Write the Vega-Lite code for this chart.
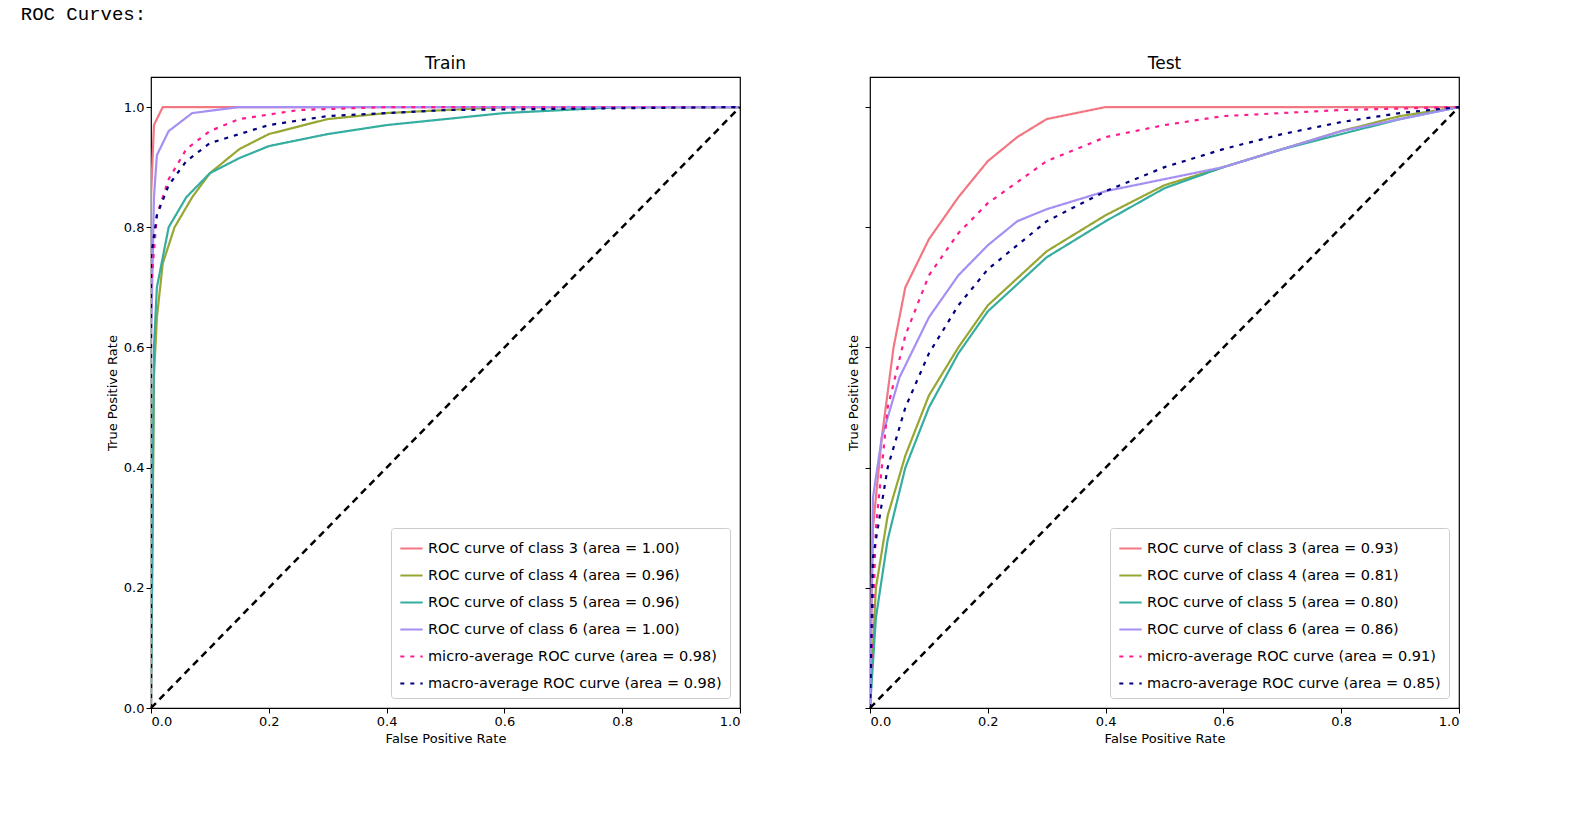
{
  "$schema": "https://vega.github.io/schema/vega-lite/v6.json",
  "background": "white",
  "padding": {"left": 20, "top": 5, "right": 10, "bottom": 5},
  "title": {"text": "ROC Curves:", "font": "Liberation Mono", "fontSize": 19, "fontWeight": "normal", "anchor": "start", "offset": 30, "dx": -85},
  "config": {
    "font": "DejaVu Sans",
    "view": {"stroke": "black", "strokeWidth": 1.2},
    "axis": {"grid": false, "domain": false, "tickColor": "black", "labelColor": "black", "titleColor": "black", "labelFontSize": 13, "titleFontSize": 13, "titleFontWeight": "normal", "tickSize": 5},
    "title": {"fontSize": 17, "fontWeight": "normal", "color": "black"},
    "legend": {"orient": "bottom-right", "fillColor": "white", "strokeColor": "#cccccc", "padding": 8, "offset": 10, "labelFontSize": 14.5, "symbolType": "stroke", "symbolSize": 500, "rowPadding": 8, "labelLimit": 500, "title": null, "cornerRadius": 3}
  },
  "datasets": {
    "curves": [
      {"p": "Train", "s": "ROC curve of class 3 (area = 1.00)", "x": 0, "y": 0},
      {"p": "Train", "s": "ROC curve of class 3 (area = 1.00)", "x": 0, "y": 0.85},
      {"p": "Train", "s": "ROC curve of class 3 (area = 1.00)", "x": 0.005, "y": 0.97},
      {"p": "Train", "s": "ROC curve of class 3 (area = 1.00)", "x": 0.02, "y": 1},
      {"p": "Train", "s": "ROC curve of class 3 (area = 1.00)", "x": 1, "y": 1},
      {"p": "Train", "s": "ROC curve of class 4 (area = 0.96)", "x": 0, "y": 0},
      {"p": "Train", "s": "ROC curve of class 4 (area = 0.96)", "x": 0.005, "y": 0.55},
      {"p": "Train", "s": "ROC curve of class 4 (area = 0.96)", "x": 0.01, "y": 0.65},
      {"p": "Train", "s": "ROC curve of class 4 (area = 0.96)", "x": 0.02, "y": 0.74},
      {"p": "Train", "s": "ROC curve of class 4 (area = 0.96)", "x": 0.04, "y": 0.8},
      {"p": "Train", "s": "ROC curve of class 4 (area = 0.96)", "x": 0.07, "y": 0.85},
      {"p": "Train", "s": "ROC curve of class 4 (area = 0.96)", "x": 0.1, "y": 0.89},
      {"p": "Train", "s": "ROC curve of class 4 (area = 0.96)", "x": 0.15, "y": 0.93},
      {"p": "Train", "s": "ROC curve of class 4 (area = 0.96)", "x": 0.2, "y": 0.955},
      {"p": "Train", "s": "ROC curve of class 4 (area = 0.96)", "x": 0.3, "y": 0.98},
      {"p": "Train", "s": "ROC curve of class 4 (area = 0.96)", "x": 0.4, "y": 0.99},
      {"p": "Train", "s": "ROC curve of class 4 (area = 0.96)", "x": 0.6, "y": 1},
      {"p": "Train", "s": "ROC curve of class 4 (area = 0.96)", "x": 1, "y": 1},
      {"p": "Train", "s": "ROC curve of class 5 (area = 0.96)", "x": 0, "y": 0},
      {"p": "Train", "s": "ROC curve of class 5 (area = 0.96)", "x": 0.005, "y": 0.6},
      {"p": "Train", "s": "ROC curve of class 5 (area = 0.96)", "x": 0.01, "y": 0.7},
      {"p": "Train", "s": "ROC curve of class 5 (area = 0.96)", "x": 0.03, "y": 0.8},
      {"p": "Train", "s": "ROC curve of class 5 (area = 0.96)", "x": 0.06, "y": 0.85},
      {"p": "Train", "s": "ROC curve of class 5 (area = 0.96)", "x": 0.1, "y": 0.89},
      {"p": "Train", "s": "ROC curve of class 5 (area = 0.96)", "x": 0.15, "y": 0.915},
      {"p": "Train", "s": "ROC curve of class 5 (area = 0.96)", "x": 0.2, "y": 0.935},
      {"p": "Train", "s": "ROC curve of class 5 (area = 0.96)", "x": 0.3, "y": 0.955},
      {"p": "Train", "s": "ROC curve of class 5 (area = 0.96)", "x": 0.4, "y": 0.97},
      {"p": "Train", "s": "ROC curve of class 5 (area = 0.96)", "x": 0.6, "y": 0.99},
      {"p": "Train", "s": "ROC curve of class 5 (area = 0.96)", "x": 0.8, "y": 1},
      {"p": "Train", "s": "ROC curve of class 5 (area = 0.96)", "x": 1, "y": 1},
      {"p": "Train", "s": "ROC curve of class 6 (area = 1.00)", "x": 0, "y": 0},
      {"p": "Train", "s": "ROC curve of class 6 (area = 1.00)", "x": 0, "y": 0.6},
      {"p": "Train", "s": "ROC curve of class 6 (area = 1.00)", "x": 0.005, "y": 0.85},
      {"p": "Train", "s": "ROC curve of class 6 (area = 1.00)", "x": 0.01, "y": 0.92},
      {"p": "Train", "s": "ROC curve of class 6 (area = 1.00)", "x": 0.03, "y": 0.96},
      {"p": "Train", "s": "ROC curve of class 6 (area = 1.00)", "x": 0.07, "y": 0.99},
      {"p": "Train", "s": "ROC curve of class 6 (area = 1.00)", "x": 0.15, "y": 1},
      {"p": "Train", "s": "ROC curve of class 6 (area = 1.00)", "x": 1, "y": 1},
      {"p": "Train", "s": "micro-average ROC curve (area = 0.98)", "x": 0, "y": 0},
      {"p": "Train", "s": "micro-average ROC curve (area = 0.98)", "x": 0, "y": 0.7},
      {"p": "Train", "s": "micro-average ROC curve (area = 0.98)", "x": 0.01, "y": 0.82},
      {"p": "Train", "s": "micro-average ROC curve (area = 0.98)", "x": 0.03, "y": 0.88},
      {"p": "Train", "s": "micro-average ROC curve (area = 0.98)", "x": 0.06, "y": 0.93},
      {"p": "Train", "s": "micro-average ROC curve (area = 0.98)", "x": 0.1, "y": 0.96},
      {"p": "Train", "s": "micro-average ROC curve (area = 0.98)", "x": 0.15, "y": 0.98},
      {"p": "Train", "s": "micro-average ROC curve (area = 0.98)", "x": 0.25, "y": 0.995},
      {"p": "Train", "s": "micro-average ROC curve (area = 0.98)", "x": 0.4, "y": 1},
      {"p": "Train", "s": "micro-average ROC curve (area = 0.98)", "x": 1, "y": 1},
      {"p": "Train", "s": "macro-average ROC curve (area = 0.98)", "x": 0, "y": 0},
      {"p": "Train", "s": "macro-average ROC curve (area = 0.98)", "x": 0, "y": 0.75},
      {"p": "Train", "s": "macro-average ROC curve (area = 0.98)", "x": 0.01, "y": 0.82},
      {"p": "Train", "s": "macro-average ROC curve (area = 0.98)", "x": 0.03, "y": 0.87},
      {"p": "Train", "s": "macro-average ROC curve (area = 0.98)", "x": 0.06, "y": 0.91},
      {"p": "Train", "s": "macro-average ROC curve (area = 0.98)", "x": 0.1, "y": 0.94},
      {"p": "Train", "s": "macro-average ROC curve (area = 0.98)", "x": 0.2, "y": 0.97},
      {"p": "Train", "s": "macro-average ROC curve (area = 0.98)", "x": 0.3, "y": 0.985},
      {"p": "Train", "s": "macro-average ROC curve (area = 0.98)", "x": 0.5, "y": 0.995},
      {"p": "Train", "s": "macro-average ROC curve (area = 0.98)", "x": 1, "y": 1},

      {"p": "Test", "s": "ROC curve of class 3 (area = 0.93)", "x": 0, "y": 0},
      {"p": "Test", "s": "ROC curve of class 3 (area = 0.93)", "x": 0.005, "y": 0.3},
      {"p": "Test", "s": "ROC curve of class 3 (area = 0.93)", "x": 0.02, "y": 0.45},
      {"p": "Test", "s": "ROC curve of class 3 (area = 0.93)", "x": 0.04, "y": 0.6},
      {"p": "Test", "s": "ROC curve of class 3 (area = 0.93)", "x": 0.06, "y": 0.7},
      {"p": "Test", "s": "ROC curve of class 3 (area = 0.93)", "x": 0.1, "y": 0.78},
      {"p": "Test", "s": "ROC curve of class 3 (area = 0.93)", "x": 0.15, "y": 0.85},
      {"p": "Test", "s": "ROC curve of class 3 (area = 0.93)", "x": 0.2, "y": 0.91},
      {"p": "Test", "s": "ROC curve of class 3 (area = 0.93)", "x": 0.25, "y": 0.95},
      {"p": "Test", "s": "ROC curve of class 3 (area = 0.93)", "x": 0.3, "y": 0.98},
      {"p": "Test", "s": "ROC curve of class 3 (area = 0.93)", "x": 0.4, "y": 1},
      {"p": "Test", "s": "ROC curve of class 3 (area = 0.93)", "x": 1, "y": 1},
      {"p": "Test", "s": "ROC curve of class 4 (area = 0.81)", "x": 0, "y": 0},
      {"p": "Test", "s": "ROC curve of class 4 (area = 0.81)", "x": 0.01, "y": 0.2},
      {"p": "Test", "s": "ROC curve of class 4 (area = 0.81)", "x": 0.03, "y": 0.32},
      {"p": "Test", "s": "ROC curve of class 4 (area = 0.81)", "x": 0.06, "y": 0.42},
      {"p": "Test", "s": "ROC curve of class 4 (area = 0.81)", "x": 0.1, "y": 0.52},
      {"p": "Test", "s": "ROC curve of class 4 (area = 0.81)", "x": 0.15, "y": 0.6},
      {"p": "Test", "s": "ROC curve of class 4 (area = 0.81)", "x": 0.2, "y": 0.67},
      {"p": "Test", "s": "ROC curve of class 4 (area = 0.81)", "x": 0.3, "y": 0.76},
      {"p": "Test", "s": "ROC curve of class 4 (area = 0.81)", "x": 0.4, "y": 0.82},
      {"p": "Test", "s": "ROC curve of class 4 (area = 0.81)", "x": 0.5, "y": 0.87},
      {"p": "Test", "s": "ROC curve of class 4 (area = 0.81)", "x": 0.6, "y": 0.9},
      {"p": "Test", "s": "ROC curve of class 4 (area = 0.81)", "x": 0.7, "y": 0.93},
      {"p": "Test", "s": "ROC curve of class 4 (area = 0.81)", "x": 0.8, "y": 0.96},
      {"p": "Test", "s": "ROC curve of class 4 (area = 0.81)", "x": 0.9, "y": 0.985},
      {"p": "Test", "s": "ROC curve of class 4 (area = 0.81)", "x": 1, "y": 1},
      {"p": "Test", "s": "ROC curve of class 5 (area = 0.80)", "x": 0, "y": 0},
      {"p": "Test", "s": "ROC curve of class 5 (area = 0.80)", "x": 0.01, "y": 0.15},
      {"p": "Test", "s": "ROC curve of class 5 (area = 0.80)", "x": 0.03, "y": 0.28},
      {"p": "Test", "s": "ROC curve of class 5 (area = 0.80)", "x": 0.06, "y": 0.4},
      {"p": "Test", "s": "ROC curve of class 5 (area = 0.80)", "x": 0.1, "y": 0.5},
      {"p": "Test", "s": "ROC curve of class 5 (area = 0.80)", "x": 0.15, "y": 0.59},
      {"p": "Test", "s": "ROC curve of class 5 (area = 0.80)", "x": 0.2, "y": 0.66},
      {"p": "Test", "s": "ROC curve of class 5 (area = 0.80)", "x": 0.3, "y": 0.75},
      {"p": "Test", "s": "ROC curve of class 5 (area = 0.80)", "x": 0.4, "y": 0.81},
      {"p": "Test", "s": "ROC curve of class 5 (area = 0.80)", "x": 0.5, "y": 0.865},
      {"p": "Test", "s": "ROC curve of class 5 (area = 0.80)", "x": 0.6, "y": 0.9},
      {"p": "Test", "s": "ROC curve of class 5 (area = 0.80)", "x": 0.7, "y": 0.93},
      {"p": "Test", "s": "ROC curve of class 5 (area = 0.80)", "x": 0.8, "y": 0.955},
      {"p": "Test", "s": "ROC curve of class 5 (area = 0.80)", "x": 0.9, "y": 0.98},
      {"p": "Test", "s": "ROC curve of class 5 (area = 0.80)", "x": 1, "y": 1},
      {"p": "Test", "s": "ROC curve of class 6 (area = 0.86)", "x": 0, "y": 0},
      {"p": "Test", "s": "ROC curve of class 6 (area = 0.86)", "x": 0.005, "y": 0.35},
      {"p": "Test", "s": "ROC curve of class 6 (area = 0.86)", "x": 0.02, "y": 0.45},
      {"p": "Test", "s": "ROC curve of class 6 (area = 0.86)", "x": 0.05, "y": 0.55},
      {"p": "Test", "s": "ROC curve of class 6 (area = 0.86)", "x": 0.1, "y": 0.65},
      {"p": "Test", "s": "ROC curve of class 6 (area = 0.86)", "x": 0.15, "y": 0.72},
      {"p": "Test", "s": "ROC curve of class 6 (area = 0.86)", "x": 0.2, "y": 0.77},
      {"p": "Test", "s": "ROC curve of class 6 (area = 0.86)", "x": 0.25, "y": 0.81},
      {"p": "Test", "s": "ROC curve of class 6 (area = 0.86)", "x": 0.3, "y": 0.83},
      {"p": "Test", "s": "ROC curve of class 6 (area = 0.86)", "x": 0.4, "y": 0.86},
      {"p": "Test", "s": "ROC curve of class 6 (area = 0.86)", "x": 0.5, "y": 0.88},
      {"p": "Test", "s": "ROC curve of class 6 (area = 0.86)", "x": 0.6, "y": 0.9},
      {"p": "Test", "s": "ROC curve of class 6 (area = 0.86)", "x": 0.7, "y": 0.93},
      {"p": "Test", "s": "ROC curve of class 6 (area = 0.86)", "x": 0.8, "y": 0.96},
      {"p": "Test", "s": "ROC curve of class 6 (area = 0.86)", "x": 0.9, "y": 0.98},
      {"p": "Test", "s": "ROC curve of class 6 (area = 0.86)", "x": 1, "y": 1},
      {"p": "Test", "s": "micro-average ROC curve (area = 0.91)", "x": 0, "y": 0},
      {"p": "Test", "s": "micro-average ROC curve (area = 0.91)", "x": 0.01, "y": 0.3},
      {"p": "Test", "s": "micro-average ROC curve (area = 0.91)", "x": 0.03, "y": 0.5},
      {"p": "Test", "s": "micro-average ROC curve (area = 0.91)", "x": 0.06, "y": 0.62},
      {"p": "Test", "s": "micro-average ROC curve (area = 0.91)", "x": 0.1, "y": 0.72},
      {"p": "Test", "s": "micro-average ROC curve (area = 0.91)", "x": 0.15, "y": 0.79},
      {"p": "Test", "s": "micro-average ROC curve (area = 0.91)", "x": 0.2, "y": 0.84},
      {"p": "Test", "s": "micro-average ROC curve (area = 0.91)", "x": 0.3, "y": 0.91},
      {"p": "Test", "s": "micro-average ROC curve (area = 0.91)", "x": 0.4, "y": 0.95},
      {"p": "Test", "s": "micro-average ROC curve (area = 0.91)", "x": 0.5, "y": 0.97},
      {"p": "Test", "s": "micro-average ROC curve (area = 0.91)", "x": 0.6, "y": 0.985},
      {"p": "Test", "s": "micro-average ROC curve (area = 0.91)", "x": 0.8, "y": 0.995},
      {"p": "Test", "s": "micro-average ROC curve (area = 0.91)", "x": 1, "y": 1},
      {"p": "Test", "s": "macro-average ROC curve (area = 0.85)", "x": 0, "y": 0},
      {"p": "Test", "s": "macro-average ROC curve (area = 0.85)", "x": 0.005, "y": 0.25},
      {"p": "Test", "s": "macro-average ROC curve (area = 0.85)", "x": 0.03, "y": 0.4},
      {"p": "Test", "s": "macro-average ROC curve (area = 0.85)", "x": 0.06, "y": 0.5},
      {"p": "Test", "s": "macro-average ROC curve (area = 0.85)", "x": 0.1, "y": 0.59},
      {"p": "Test", "s": "macro-average ROC curve (area = 0.85)", "x": 0.15, "y": 0.67},
      {"p": "Test", "s": "macro-average ROC curve (area = 0.85)", "x": 0.2, "y": 0.73},
      {"p": "Test", "s": "macro-average ROC curve (area = 0.85)", "x": 0.3, "y": 0.81},
      {"p": "Test", "s": "macro-average ROC curve (area = 0.85)", "x": 0.4, "y": 0.86},
      {"p": "Test", "s": "macro-average ROC curve (area = 0.85)", "x": 0.5, "y": 0.9},
      {"p": "Test", "s": "macro-average ROC curve (area = 0.85)", "x": 0.6, "y": 0.93},
      {"p": "Test", "s": "macro-average ROC curve (area = 0.85)", "x": 0.7, "y": 0.955},
      {"p": "Test", "s": "macro-average ROC curve (area = 0.85)", "x": 0.8, "y": 0.975},
      {"p": "Test", "s": "macro-average ROC curve (area = 0.85)", "x": 0.9, "y": 0.99},
      {"p": "Test", "s": "macro-average ROC curve (area = 0.85)", "x": 1, "y": 1}
    ],
    "diag": [{"x": 0, "y": 0}, {"x": 1, "y": 1}]
  },
  "hconcat": [
    {
      "title": "Train",
      "width": 589, "height": 631,
      "layer": [
        {
          "data": {"name": "curves"},
          "transform": [{"filter": "datum.p == 'Train'"}],
          "mark": {"type": "line", "clip": true},
          "encoding": {
            "x": {"field": "x", "type": "quantitative", "scale": {"domain": [0, 1], "nice": false}, "axis": {"values": [0, 0.2, 0.4, 0.6, 0.8, 1], "format": ".1f"}, "title": "False Positive Rate"},
            "y": {"field": "y", "type": "quantitative", "scale": {"domain": [0, 1.05], "nice": false}, "axis": {"values": [0, 0.2, 0.4, 0.6, 0.8, 1], "format": ".1f"}, "title": "True Positive Rate"},
            "order": {"field": "x"},
            "color": {"field": "s", "type": "nominal", "scale": {
              "domain": ["ROC curve of class 3 (area = 1.00)", "ROC curve of class 4 (area = 0.96)", "ROC curve of class 5 (area = 0.96)", "ROC curve of class 6 (area = 1.00)", "micro-average ROC curve (area = 0.98)", "macro-average ROC curve (area = 0.98)"],
              "range": ["#f27783", "#98a632", "#35ada0", "#a68ff2", "#ff1a90", "#00007f"]}},
            "strokeDash": {"field": "s", "type": "nominal", "scale": {
              "domain": ["ROC curve of class 3 (area = 1.00)", "ROC curve of class 4 (area = 0.96)", "ROC curve of class 5 (area = 0.96)", "ROC curve of class 6 (area = 1.00)", "micro-average ROC curve (area = 0.98)", "macro-average ROC curve (area = 0.98)"],
              "range": [[1, 0], [1, 0], [1, 0], [1, 0], [4, 6], [4, 6]]}},
            "strokeWidth": {"field": "s", "type": "nominal", "scale": {
              "domain": ["ROC curve of class 3 (area = 1.00)", "ROC curve of class 4 (area = 0.96)", "ROC curve of class 5 (area = 0.96)", "ROC curve of class 6 (area = 1.00)", "micro-average ROC curve (area = 0.98)", "macro-average ROC curve (area = 0.98)"],
              "range": [2.2, 2.2, 2.2, 2.2, 5, 5]}}
          }
        },
        {
          "data": {"name": "diag"},
          "mark": {"type": "line", "color": "black", "strokeDash": [7, 5], "strokeWidth": 2.5},
          "encoding": {"x": {"field": "x", "type": "quantitative"}, "y": {"field": "y", "type": "quantitative"}}
        }
      ]
    },
    {
      "title": "Test",
      "width": 589, "height": 631,
      "layer": [
        {
          "data": {"name": "curves"},
          "transform": [{"filter": "datum.p == 'Test'"}],
          "mark": {"type": "line", "clip": true},
          "encoding": {
            "x": {"field": "x", "type": "quantitative", "scale": {"domain": [0, 1], "nice": false}, "axis": {"values": [0, 0.2, 0.4, 0.6, 0.8, 1], "format": ".1f"}, "title": "False Positive Rate"},
            "y": {"field": "y", "type": "quantitative", "scale": {"domain": [0, 1.05], "nice": false}, "axis": {"values": [0, 0.2, 0.4, 0.6, 0.8, 1], "labels": false}, "title": "True Positive Rate"},
            "order": {"field": "x"},
            "color": {"field": "s", "type": "nominal", "scale": {
              "domain": ["ROC curve of class 3 (area = 0.93)", "ROC curve of class 4 (area = 0.81)", "ROC curve of class 5 (area = 0.80)", "ROC curve of class 6 (area = 0.86)", "micro-average ROC curve (area = 0.91)", "macro-average ROC curve (area = 0.85)"],
              "range": ["#f27783", "#98a632", "#35ada0", "#a68ff2", "#ff1a90", "#00007f"]}},
            "strokeDash": {"field": "s", "type": "nominal", "scale": {
              "domain": ["ROC curve of class 3 (area = 0.93)", "ROC curve of class 4 (area = 0.81)", "ROC curve of class 5 (area = 0.80)", "ROC curve of class 6 (area = 0.86)", "micro-average ROC curve (area = 0.91)", "macro-average ROC curve (area = 0.85)"],
              "range": [[1, 0], [1, 0], [1, 0], [1, 0], [4, 6], [4, 6]]}},
            "strokeWidth": {"field": "s", "type": "nominal", "scale": {
              "domain": ["ROC curve of class 3 (area = 0.93)", "ROC curve of class 4 (area = 0.81)", "ROC curve of class 5 (area = 0.80)", "ROC curve of class 6 (area = 0.86)", "micro-average ROC curve (area = 0.91)", "macro-average ROC curve (area = 0.85)"],
              "range": [2.2, 2.2, 2.2, 2.2, 5, 5]}}
          }
        },
        {
          "data": {"name": "diag"},
          "mark": {"type": "line", "color": "black", "strokeDash": [7, 5], "strokeWidth": 2.5},
          "encoding": {"x": {"field": "x", "type": "quantitative"}, "y": {"field": "y", "type": "quantitative"}}
        }
      ]
    }
  ],
  "spacing": 100,
  "resolve": {"scale": {"color": "independent", "strokeDash": "independent", "strokeWidth": "independent"}, "legend": {"color": "independent", "strokeDash": "independent", "strokeWidth": "independent"}}
}
